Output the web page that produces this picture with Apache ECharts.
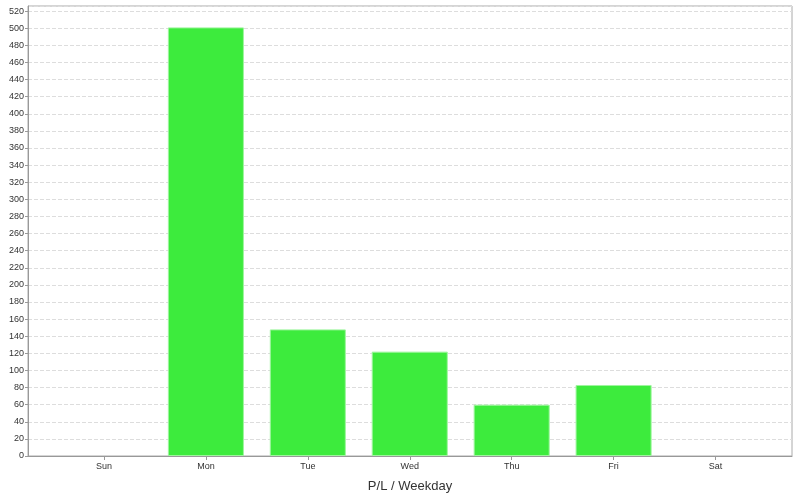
<!DOCTYPE html>
<html><head><meta charset="utf-8">
<script src="https://cdn.jsdelivr.net/npm/echarts@6/dist/echarts.min.js"></script>
<style>html,body{margin:0;padding:0;background:#fff}#c{width:800px;height:500px}</style>
</head><body><div id="c"></div>
<script>
const categories = ['Sun','Mon','Tue','Wed','Thu','Fri','Sat'];
const values = [0, 501, 148, 122, 60, 83, 0];
const yMin = 0, yMax = 526, yStep = 20;

const font = 'Liberation Sans, Arial, sans-serif';
const chart = echarts.init(document.getElementById('c'), null, {renderer:'canvas'});
chart.setOption({
  animation:false,
  backgroundColor:'#fff',
  grid:[
    {left:28, right:8, top:6, bottom:44, show:true, borderColor:'#aaa', borderWidth:1, outerBoundsMode:'none', containLabel:false},
    {left:53, right:33.5, top:6, bottom:44, outerBoundsMode:'none', containLabel:false}
  ],
  xAxis:[
    {gridIndex:0, type:'category', data:categories, axisLabel:{show:false}, axisTick:{show:false},
     axisLine:{lineStyle:{color:'#999'}}, splitLine:{show:false},
     name:'P/L / Weekday', nameLocation:'middle', nameGap:24,
     nameTextStyle:{fontFamily:font, fontSize:13, color:'#333'}},
    {gridIndex:1, type:'category', data:categories,
     axisLine:{show:false},
     axisTick:{show:true, alignWithLabel:true, length:4, lineStyle:{color:'#999'}},
     axisLabel:{fontFamily:font, fontSize:9, color:'#333', margin:6},
     splitLine:{show:false}}
  ],
  yAxis:[
    {gridIndex:0, type:'value', min:yMin, max:yMax, interval:yStep,
     axisLine:{show:true, lineStyle:{color:'#999'}},
     axisTick:{show:true, length:3, lineStyle:{color:'#999'}},
     axisLabel:{fontFamily:font, fontSize:9, color:'#333', margin:4, showMaxLabel:false},
     splitLine:{show:true, lineStyle:{color:'#ddd', type:'dashed'}}},
    {gridIndex:1, type:'value', min:yMin, max:yMax, interval:yStep, show:false, splitLine:{show:false}}
  ],
  series:[{
    type:'bar', xAxisIndex:1, yAxisIndex:1, barCategoryGap:'25.4%',
    data: values.map(v => v === 0 ? {value:v, itemStyle:{borderWidth:0}} : v),
    itemStyle:{color:'#3deb3d', borderColor:'#9ef59e', borderWidth:1}
  }]
});
</script></body></html>
